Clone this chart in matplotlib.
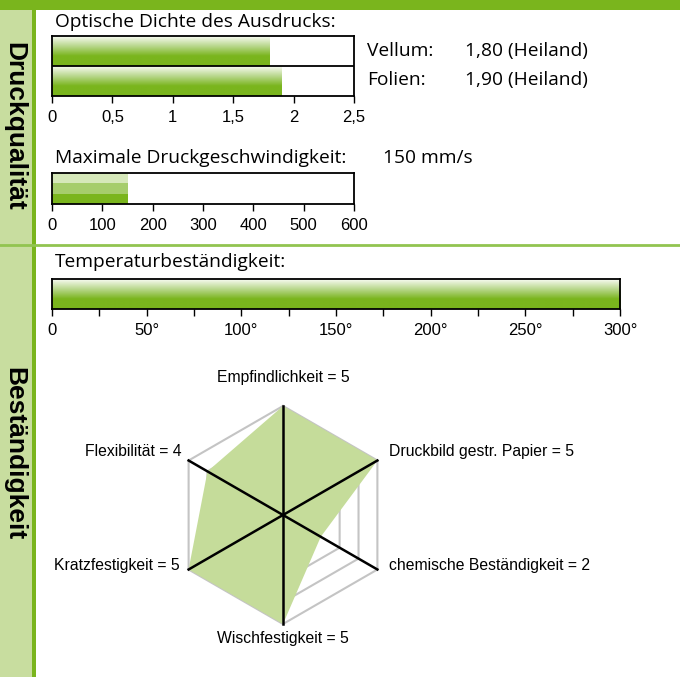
import numpy as np
import matplotlib
matplotlib.use("Agg")
import matplotlib.pyplot as plt
from matplotlib.colors import LinearSegmentedColormap

# data
dichte_labels = ["Vellum:", "Folien:"]
dichte_werte = [1.80, 1.90]
dichte_texte = ["1,80 (Heiland)", "1,90 (Heiland)"]
dichte_ticks = [0, 0.5, 1, 1.5, 2, 2.5]

speed_wert = 150
speed_ticks = [0, 100, 200, 300, 400, 500, 600]

temp_wert = 300
temp_ticks = [0, 50, 100, 150, 200, 250, 300]

radar_labels = ["Empfindlichkeit", "Druckbild gestr. Papier", "chemische Beständigkeit",
                "Wischfestigkeit", "Kratzfestigkeit", "Flexibilität"]
radar_werte = [5, 5, 2, 5, 5, 4]
radar_max = 5

GREEN = "#7ab51d"
LIGHT = "#c8dd9f"
W, H = 680, 677

fig = plt.figure(figsize=(6.8, 6.77), dpi=100)
fig.patch.set_facecolor("white")

def px_axes(x0, y0, x1, y1, **kw):
    return fig.add_axes([x0 / W, 1 - y1 / H, (x1 - x0) / W, (y1 - y0) / H], **kw)

title_font = dict(family="Open Sans", size=13.8)

# background decoration
bg = fig.add_axes([0, 0, 1, 1], zorder=-10)
bg.set_xlim(0, W)
bg.set_ylim(H, 0)
bg.axis("off")
bg.add_patch(plt.Rectangle((0, 0), W, 10, color=GREEN, lw=0))
bg.add_patch(plt.Rectangle((0, 10), 32, H, color=LIGHT, lw=0))
bg.add_patch(plt.Rectangle((32, 10), 3.5, H, color=GREEN, lw=0))
bg.plot([0, W], [245, 245], color="#92c450", lw=2)
bg.text(14, 126, "Druckqualität", rotation=-90, ha="center", va="center",
        fontsize=19, fontweight="bold", family="Liberation Sans")
bg.text(14, 454, "Beständigkeit", rotation=-90, ha="center", va="center",
        fontsize=19, fontweight="bold", family="Liberation Sans")

grad_cmap = LinearSegmentedColormap.from_list("g", ["#f8fbf2", "#b8d78c", GREEN, GREEN])
grad = np.linspace(0, 1, 100).reshape(-1, 1)

def gradient_bars(ax, bars):
    for b in bars:
        x, y = b.get_x(), b.get_y()
        w, h = b.get_width(), b.get_height()
        b.set_facecolor("none")
        im = ax.imshow(grad, cmap=grad_cmap, aspect="auto", origin="upper",
                       extent=[x, x + w, y + h, y], zorder=1)
        im.set_clip_path(b)

def style_axis(ax):
    for s in ax.spines.values():
        s.set_linewidth(1.3)
    ax.set_yticks([])
    ax.tick_params(axis="x", which="both", direction="out", length=5, width=1, pad=5,
                   labelsize=12, labelfontfamily="Liberation Sans")

# optische Dichte
ax1 = px_axes(52, 36, 354, 96)
pos = np.arange(len(dichte_werte))
bars = ax1.barh(pos, dichte_werte, height=1.0, edgecolor="none")
ax1.set_ylim(len(dichte_werte) - 0.5, -0.5)
ax1.set_xlim(0, 2.5)
gradient_bars(ax1, bars)
ax1.axhline(0.5, color="black", lw=1.3, zorder=3)
ax1.set_xticks(dichte_ticks)
ax1.set_xticklabels([f"{t:g}".replace(".", ",") for t in dichte_ticks])
style_axis(ax1)
fig.text(55 / W, 1 - 22 / H, "Optische Dichte des Ausdrucks:", va="center", **title_font)
for i, (lab, txt) in enumerate(zip(dichte_labels, dichte_texte)):
    y = 51 + i * 29
    fig.text(367 / W, 1 - y / H, lab, va="center", **title_font)
    fig.text(465 / W, 1 - y / H, txt, va="center", **title_font)

# Druckgeschwindigkeit
ax2 = px_axes(52, 173, 354, 204)
stripe_cols = ["#d6e8ba", "#a6cd6c", GREEN]
for i, c in enumerate(stripe_cols):
    ax2.barh(i, speed_wert, height=1.0, color=c, edgecolor="none")
ax2.set_ylim(2.5, -0.5)
ax2.set_xlim(0, 600)
ax2.set_xticks(speed_ticks)
ax2.set_xticklabels([str(t) for t in speed_ticks])
style_axis(ax2)
fig.text(55 / W, 1 - 158 / H, "Maximale Druckgeschwindigkeit:", va="center", **title_font)
fig.text(383 / W, 1 - 158 / H, f"{speed_wert} mm/s", va="center", **title_font)

# Temperatur
ax3 = px_axes(52, 279, 620, 309)
tb = ax3.barh(0, temp_wert, height=1.0, edgecolor="none")
ax3.set_ylim(0.5, -0.5)
ax3.set_xlim(0, 300)
gradient_bars(ax3, tb)
ax3.set_xticks(temp_ticks)
ax3.set_xticks(np.arange(0, 301, 25), minor=True)
ax3.set_xticklabels(["0"] + [f"{t}°" for t in temp_ticks[1:]])
style_axis(ax3)
fig.text(55 / W, 1 - 262 / H, "Temperaturbeständigkeit:", va="center", **title_font)

# Radar
R = 109
ax4 = px_axes(283 - R, 515 - R, 283 + R, 515 + R)
ax4.set_xlim(-1, 1)
ax4.set_ylim(-1, 1)
ax4.axis("off")
n = len(radar_werte)
ang = np.deg2rad(90 - 60 * np.arange(n))
ang_c = np.append(ang, ang[0])
for lvl in range(1, radar_max + 1):
    r = lvl / radar_max
    ax4.plot(r * np.cos(ang_c), r * np.sin(ang_c), color="#c4c4c4", lw=1.5, zorder=1,
             clip_on=False)
vals = np.array(radar_werte + radar_werte[:1]) / radar_max
ax4.fill(vals * np.cos(ang_c), vals * np.sin(ang_c), color="#c5dc9a", lw=0, zorder=2,
         clip_on=False)
for a in ang[:3]:
    ax4.plot([np.cos(a), -np.cos(a)], [np.sin(a), -np.sin(a)], color="black", lw=1.8,
             zorder=3, clip_on=False)

lab_pos = [(0, 1.26, "center"), (0.97, 0.58, "left"), (0.97, -0.46, "left"),
           (0, -1.13, "center"), (-0.95, -0.46, "right"), (-0.93, 0.58, "right")]
for (x, y, ha), lab, v in zip(lab_pos, radar_labels, radar_werte):
    ax4.text(x, y, f"{lab} = {v}", ha=ha, va="center", fontsize=11.3,
             family="Liberation Sans", clip_on=False)

fig.savefig("out.png", dpi=100, facecolor="white")
